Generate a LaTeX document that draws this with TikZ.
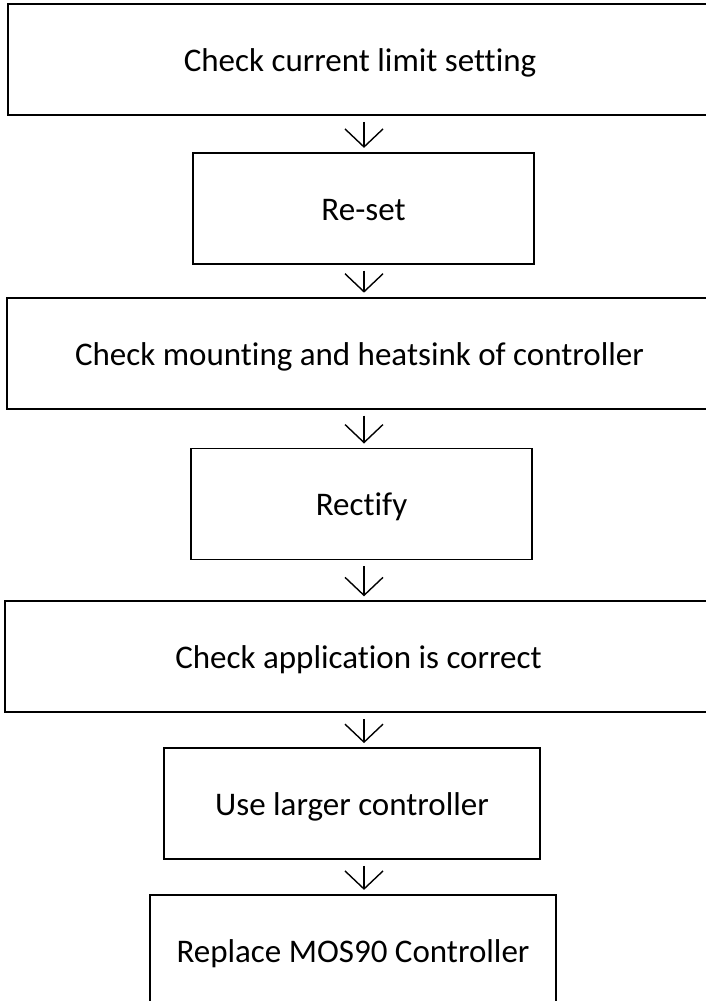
\documentclass[tikz,border=0pt]{standalone}
\usepackage{fontspec}
\setmainfont{Carlito}[Ligatures={NoCommon}]
\usetikzlibrary{positioning,arrows.meta}

\begin{document}
\begin{tikzpicture}[
    x=1pt, y=1pt,
    box/.style={rectangle, draw, line width=1.8pt, minimum height=111pt, inner sep=0pt, align=center,
        text height=30pt, text depth=6pt, font=\fontsize{33}{38}\selectfont},
    arrow/.style={-{Straight Barb[length=18pt,width=38pt]}, line width=1.4pt, shorten <=6pt, shorten >=4pt}
]
    \useasboundingbox (0,0) rectangle (705,-1001);
    \coordinate (axis) at (364,0);

    \node[box, minimum width=704pt] (limit) at (360,-59.5) {Check current limit setting};
    \node[box, minimum width=341pt, below=36pt of limit, xshift=3.5pt] (reset) {Re-set};
    \node[box, minimum width=705pt, below=32pt of reset, xshift=-4pt] (mount) {Check mounting and heatsink of controller};
    \node[box, minimum width=341pt, below=38pt of mount, xshift=2pt] (rectify) {Rectify};
    \node[box, minimum width=707pt, below=40pt of rectify, xshift=-3pt] (appl) {Check application is correct};
    \node[box, minimum width=376pt, below=34pt of appl, xshift=-6.5pt] (larger) {Use larger controller};
    \node[box, minimum width=406pt, below=34pt of larger, xshift=1pt] (replace) {Replace MOS90 Controller};

    \draw[arrow] (limit.south -| axis) -- (reset.north -| axis);
    \draw[arrow] (reset.south -| axis) -- (mount.north -| axis);
    \draw[arrow] (mount.south -| axis) -- (rectify.north -| axis);
    \draw[arrow] (rectify.south -| axis) -- (appl.north -| axis);
    \draw[arrow] (appl.south -| axis) -- (larger.north -| axis);
    \draw[arrow] (larger.south -| axis) -- (replace.north -| axis);
\end{tikzpicture}
\end{document}
